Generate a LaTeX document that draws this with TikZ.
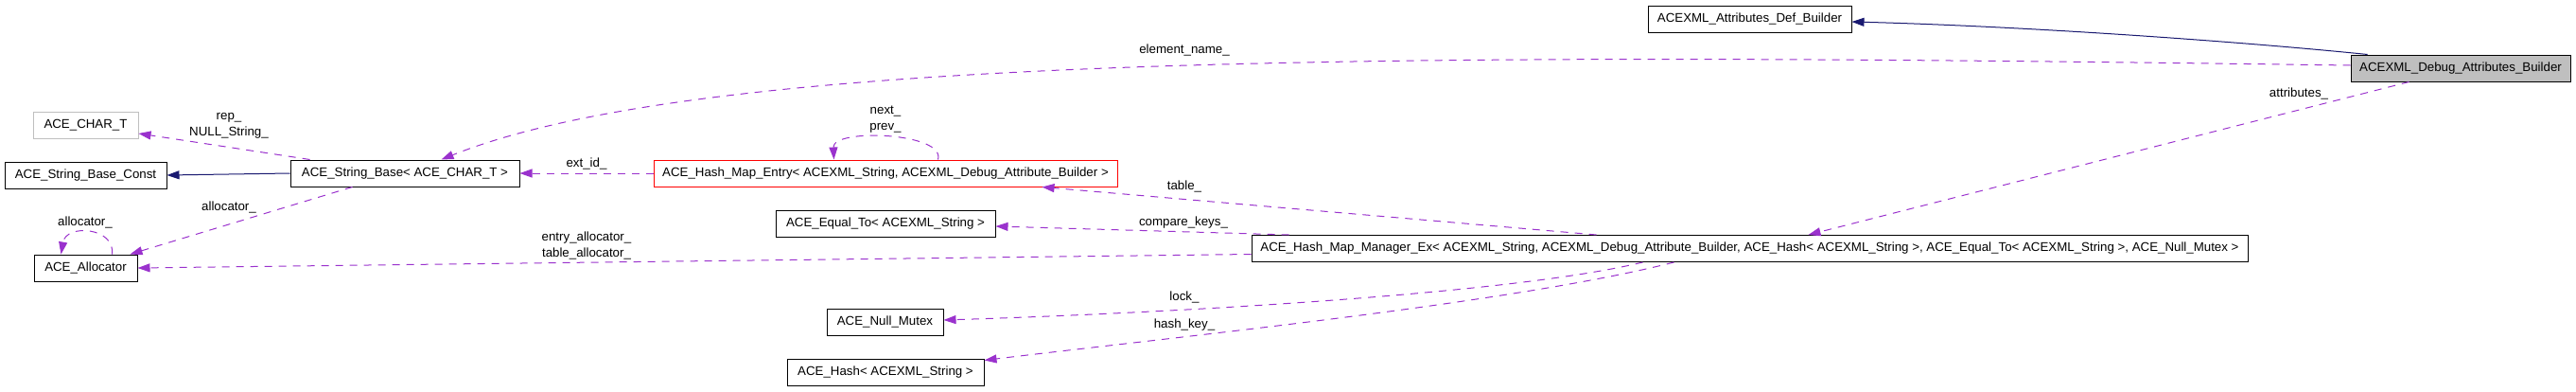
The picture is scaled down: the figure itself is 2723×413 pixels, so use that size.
\documentclass[tikz,border=0pt]{standalone}
\usepackage{fontspec}
\setmainfont{Liberation Sans}
\usetikzlibrary{arrows.meta}
\definecolor{usecol}{HTML}{9A32CD}
\definecolor{inhcol}{HTML}{191970}
\definecolor{boxgray}{HTML}{BFBFBF}

\begin{document}
\begin{tikzpicture}[x=1pt,y=-1pt,
  every node/.style={font=\fontsize{13.3}{17}\selectfont},
  cls/.style={draw=black,line width=1pt,minimum height=28pt,inner sep=0pt},
  inh/.style={color=inhcol,line width=1pt,-{Triangle[length=13pt,width=9pt]}},
  use/.style={color=usecol,line width=1pt,dash pattern=on 8pt off 7pt,-{Triangle[length=13pt,width=9pt]}},
  lbl/.style={inner sep=0pt,align=center}]
\useasboundingbox (0,0) rectangle (2723,413);

\node[cls,draw=boxgray,minimum width=111pt] (chart) at (90.5,132) {ACE\_CHAR\_T};
\node[cls,minimum width=171pt] (sbconst) at (90.5,185) {ACE\_String\_Base\_Const};
\node[cls,minimum width=242pt] (sbase) at (428,183) {ACE\_String\_Base< ACE\_CHAR\_T >};
\node[cls,minimum width=109pt] (alloc) at (90.5,283) {ACE\_Allocator};
\node[cls,draw=red,minimum width=490pt] (entry) at (936,183) {ACE\_Hash\_Map\_Entry< ACEXML\_String, ACEXML\_Debug\_Attribute\_Builder >};
\node[cls,minimum width=232pt] (equal) at (936,236) {ACE\_Equal\_To< ACEXML\_String >};
\node[cls,minimum width=123pt] (nullmx) at (935.5,340) {ACE\_Null\_Mutex};
\node[cls,minimum width=208pt] (hash) at (936,393) {ACE\_Hash< ACEXML\_String >};
\node[cls,minimum width=1053pt] (manager) at (1849.5,262.5) {ACE\_Hash\_Map\_Manager\_Ex< ACEXML\_String, ACEXML\_Debug\_Attribute\_Builder, ACE\_Hash< ACEXML\_String >, ACE\_Equal\_To< ACEXML\_String >, ACE\_Null\_Mutex >};
\node[cls,minimum width=215pt] (defb) at (1849.5,20) {ACEXML\_Attributes\_Def\_Builder};
\node[cls,fill=boxgray,minimum width=232pt] (debugb) at (2601,72) {ACEXML\_Debug\_Attributes\_Builder};

\draw[inh] (sbase.west) -- (sbconst.east);
\draw[inh] ([xshift=18pt]debugb.north west) .. controls (2380,45) and (2150,28) .. ([yshift=-3pt]defb.east);

\draw[use] ([xshift=21pt]sbase.north west) -- ([yshift=-9pt]chart.east);
\draw[use] ([xshift=66pt]sbase.south west) -- ([xshift=-8pt]alloc.north east);
\draw[use] ([xshift=-27pt]alloc.north east) .. controls (122,240) and (70,236) .. ([xshift=29pt]alloc.north west);
\draw[use] (entry.west) -- (sbase.east);
\draw[use] ([yshift=3pt]debugb.west) .. controls (1500,55) and (750,55) .. ([xshift=160pt]sbase.north west);
\draw[use] ([xshift=301pt]entry.north west) .. controls (1000,140) and (880,135) .. ([xshift=191pt]entry.north west);
\draw[use] ([xshift=365pt]manager.north west) -- ([xshift=411pt]entry.south west);
\draw[use] ([xshift=40pt]manager.north west) -- ([yshift=-3pt]equal.east);
\draw[use] ([yshift=-6pt]manager.west) -- (alloc.east);
\draw[use] ([xshift=414pt]manager.south west) .. controls (1600,310) and (1250,330) .. ([yshift=2pt]nullmx.east);
\draw[use] ([xshift=447pt]manager.south west) .. controls (1600,320) and (1250,355) .. ([yshift=-2pt]hash.north east);
\draw[use] ([xshift=62pt]debugb.south west) -- ([xshift=589pt]manager.north west);

\node[lbl] (lrep) at (242,132.5) {rep\_\\NULL\_String\_};
\node[lbl] (lalloc) at (242,219) {allocator\_};
\node[lbl] (lself) at (90,235) {allocator\_};
\node[lbl] (lextid) at (620,173) {ext\_id\_};
\node[lbl] (lentry) at (620,259.5) {entry\_allocator\_\\table\_allocator\_};
\node[lbl] (lelem) at (1252,53) {element\_name\_};
\node[lbl] (lnext) at (936,126) {next\_\\prev\_};
\node[lbl] (ltable) at (1252,197) {table\_};
\node[lbl] (lcomp) at (1251,235) {compare\_keys\_};
\node[lbl] (llock) at (1252,314) {lock\_};
\node[lbl] (lhkey) at (1252,343) {hash\_key\_};
\node[lbl] (lattr) at (2430,99) {attributes\_};
\end{tikzpicture}
\end{document}
